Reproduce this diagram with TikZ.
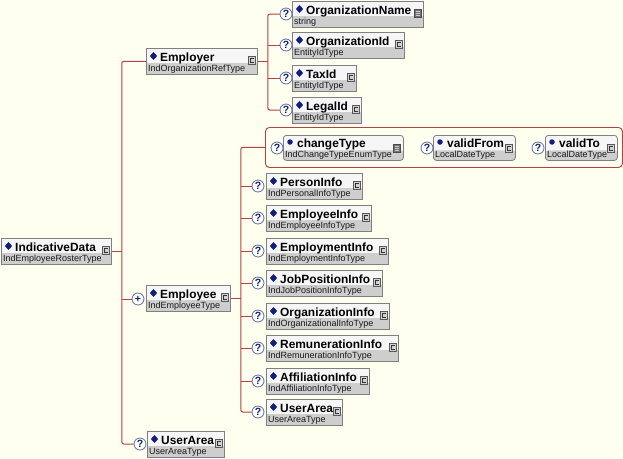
\documentclass[tikz,border=0pt]{standalone}
\usepackage{fontspec}
\setmainfont{Liberation Sans}
\usetikzlibrary{shapes.geometric,calc}
\definecolor{bg}{RGB}{255,255,240}
\definecolor{connc}{RGB}{180,66,66}
\definecolor{boxdraw}{RGB}{128,128,128}
\definecolor{topfill}{RGB}{246,246,246}
\definecolor{botfill}{RGB}{206,206,206}
\definecolor{navy}{RGB}{20,30,120}
\definecolor{qdraw}{RGB}{90,110,160}
\tikzset{
  ebox/.style={draw=boxdraw, fill=topfill, line width=0.8pt, inner sep=0pt, minimum height=26pt,
    path picture={\fill[botfill] ([yshift=-15pt]path picture bounding box.north west) rectangle (path picture bounding box.south east);}},
  abox/.style={ebox, rounded corners=3pt, minimum height=25pt},
  grp/.style={draw=connc, line width=0.9pt, rounded corners=4pt, inner sep=0pt},
  dia/.style={diamond, fill=navy, inner sep=0pt, minimum width=7.5pt, minimum height=8pt},
  adot/.style={circle, fill=navy, inner sep=0pt, minimum size=5.5pt},
  ntext/.style={anchor=base west, inner sep=0pt, font=\bfseries\fontsize{11.9}{14}\selectfont},
  ttext/.style={anchor=base west, inner sep=0pt, text=black!90, font=\fontsize{9}{10}\selectfont},
  iconc/.style={rectangle, draw=black!65, fill=black!18, line width=0.5pt, inner sep=0pt, minimum width=7pt, minimum height=8pt,
    path picture={\draw[black!80, line width=0.6pt] ([shift={(1.6pt,1.8pt)}]path picture bounding box.center) -- ++(-3pt,0) -- ++(0,-3.6pt) -- ++(3pt,0);}},
  icons/.style={rectangle, draw=black!70, fill=black!55, line width=0.5pt, inner sep=0pt, minimum width=7pt, minimum height=8pt,
    path picture={\foreach \yy in {-2,0,2}{\draw[white!80!black, line width=0.5pt] ([shift={(-2.2pt,\yy pt)}]path picture bounding box.center) -- ++(4.4pt,0);}}},
  qc/.style={circle, draw=qdraw, fill=white, line width=0.8pt, inner sep=0pt, minimum size=12pt, text=navy,
    font=\bfseries\fontsize{10.5}{10.5}\selectfont},
  conn/.style={draw=connc, line width=1pt, rounded corners=2pt},
}
\newcommand\elm[7]{%
  \pgfmathsetmacro\ew{#4-#2}%
  \node[ebox, minimum width=\ew pt, anchor=north west] (#1) at (#2,#3) {};
  \node[dia] (#1-d) at ({#2+7.5},{#3+8}) {};
  \node[ntext] (#1-n) at ({#2+14},{#3+13}) {#5};
  \node[ttext] (#1-t) at ({#2+2},{#3+23}) {#6};
  \node[icon#7] (#1-i) at ({#4-5},{#3+12.5}) {};
}
\newcommand\att[7]{%
  \pgfmathsetmacro\ew{#4-#2}%
  \node[abox, minimum width=\ew pt, anchor=north west] (#1) at (#2,#3) {};
  \node[adot] (#1-d) at ({#2+7},{#3+7}) {};
  \node[ntext] (#1-n) at ({#2+14},{#3+12}) {#5};
  \node[ttext] (#1-t) at ({#2+2},{#3+22}) {#6};
  \node[icon#7] (#1-i) at ({#4-6},{#3+13}) {};
}
\begin{document}
\begin{tikzpicture}[x=1pt,y=-1pt]
\fill[bg] (0,0) rectangle (623,458);
\useasboundingbox (0,0) rectangle (623,458);
% level 0
\elm{indic}{1}{238}{111}{IndicativeData}{IndEmployeeRosterType}{c}
% level 1
\elm{employer}{146}{48}{257}{Employer}{IndOrganizationRefType}{c}
\elm{employee}{146}{285}{230}{Employee}{IndEmployeeType}{c}
\elm{uaa}{147}{431}{224}{UserArea}{UserAreaType}{c}
\node[qc] (employee-p) at (138,299) {+};
\node[qc] (uaa-q) at (140,444) {?};
% employer children
\elm{orgname}{292}{1}{423}{OrganizationName}{string}{s}
\elm{orgid}{292}{32}{404}{OrganizationId}{EntityIdType}{c}
\elm{taxid}{292}{65}{356}{TaxId}{EntityIdType}{c}
\elm{legalid}{292}{97}{361}{LegalId}{EntityIdType}{c}
\node[qc] (orgname-q) at (286,14) {?};
\node[qc] (orgid-q) at (286,45) {?};
\node[qc] (taxid-q) at (286,78) {?};
\node[qc] (legalid-q) at (286,110) {?};
% attribute group
\node[grp, minimum width=357pt, minimum height=40pt, anchor=north west] (attgroup) at (265,127) {};
\att{chg}{283}{135}{403}{changeType}{IndChangeTypeEnumType}{s}
\att{vfrom}{433}{135}{515}{validFrom}{LocalDateType}{c}
\att{vto}{545}{135}{617}{validTo}{LocalDateType}{c}
\node[qc] (chg-q) at (277,148) {?};
\node[qc] (vfrom-q) at (427,148) {?};
\node[qc] (vto-q) at (538,148) {?};
% employee children
\elm{person}{266}{173}{362}{PersonInfo}{IndPersonalInfoType}{c}
\elm{emplinfo}{266}{205}{371}{EmployeeInfo}{IndEmployeeInfoType}{c}
\elm{employm}{266}{238}{388}{EmploymentInfo}{IndEmploymentInfoType}{c}
\elm{jobpos}{266}{270}{382}{JobPositionInfo}{IndJobPositionInfoType}{c}
\elm{orginfo}{266}{303}{389}{OrganizationInfo}{IndOrganizationalInfoType}{c}
\elm{remun}{266}{335}{398}{RemunerationInfo}{IndRemunerationInfoType}{c}
\elm{affil}{266}{368}{369}{AffiliationInfo}{IndAffiliationInfoType}{c}
\elm{uab}{266}{399}{342}{UserArea}{UserAreaType}{c}
\foreach \nm/\yy in {person/186,emplinfo/218,employm/251,jobpos/283,orginfo/316,remun/348,affil/381,uab/412}{
  \node[qc] (\nm-q) at (258,\yy) {?};
}
% connectors
\coordinate (j1) at ([xshift=10pt]indic.east);
\draw[conn] (indic.east) -- (j1);
\draw[conn] (employer.west) -| (j1) |- (uaa-q.west);
\draw[conn] (employee-p.west) -- (employee-p.west -| j1);
\coordinate (j2) at ([xshift=10pt]employer.east);
\draw[conn] (employer.east) -- (j2);
\draw[conn] (orgname-q.west) -| (j2) |- (legalid-q.west);
\draw[conn] (orgid-q.west) -- (orgid-q.west -| j2);
\draw[conn] (taxid-q.west) -- (taxid-q.west -| j2);
\coordinate (j3) at ([xshift=10pt]employee.east);
\draw[conn] (employee.east) -- (j3);
\draw[conn] (attgroup.west) -| (j3) |- (uab-q.west);
\foreach \nm in {person,emplinfo,employm,jobpos,orginfo,remun,affil}{
  \draw[conn] (\nm-q.west) -- (\nm-q.west -| j3);
}
\end{tikzpicture}
\end{document}
